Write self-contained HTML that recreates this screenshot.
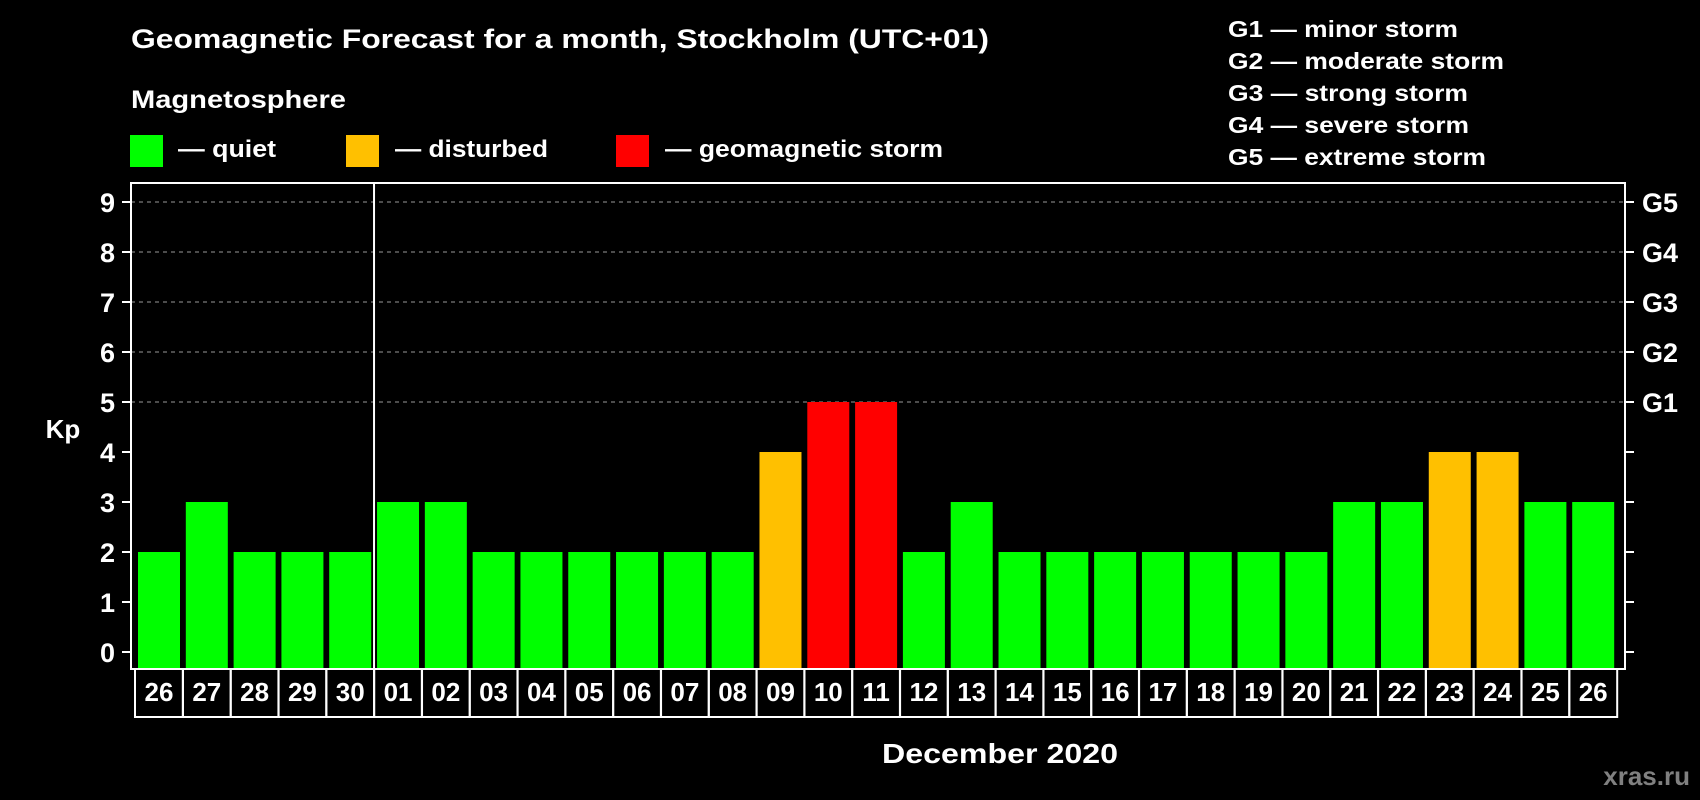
<!DOCTYPE html>
<html><head><meta charset="utf-8"><style>
html,body{margin:0;padding:0;background:#000;}
svg{display:block;font-family:"Liberation Sans",Arial,sans-serif;font-weight:bold;}
</style></head><body>
<svg id="chart" width="1700" height="800" viewBox="0 0 1700 800">
<text x="131" y="48" fill="#fff" font-size="27" textLength="858" lengthAdjust="spacingAndGlyphs">Geomagnetic Forecast for a month, Stockholm (UTC+01)</text>
<text x="131" y="108" fill="#fff" font-size="25" textLength="215" lengthAdjust="spacingAndGlyphs">Magnetosphere</text>
<g><rect x="130" y="135" width="33" height="32" fill="#00ff00"/><text x="178" y="157" fill="#fff" font-size="24" textLength="98" lengthAdjust="spacingAndGlyphs">— quiet</text></g>
<g><rect x="346" y="135" width="33" height="32" fill="#ffc000"/><text x="395" y="157" fill="#fff" font-size="24" textLength="153" lengthAdjust="spacingAndGlyphs">— disturbed</text></g>
<g><rect x="616" y="135" width="33" height="32" fill="#ff0000"/><text x="665" y="157" fill="#fff" font-size="24" textLength="278" lengthAdjust="spacingAndGlyphs">— geomagnetic storm</text></g>
<g fill="#fff" font-size="23">
<text x="1228" y="37" textLength="230" lengthAdjust="spacingAndGlyphs">G1 — minor storm</text>
<text x="1228" y="69" textLength="276" lengthAdjust="spacingAndGlyphs">G2 — moderate storm</text>
<text x="1228" y="101" textLength="240" lengthAdjust="spacingAndGlyphs">G3 — strong storm</text>
<text x="1228" y="133" textLength="241" lengthAdjust="spacingAndGlyphs">G4 — severe storm</text>
<text x="1228" y="165" textLength="258" lengthAdjust="spacingAndGlyphs">G5 — extreme storm</text>
</g>
<text x="63" y="438" fill="#fff" font-size="26" text-anchor="middle">Kp</text>
<text x="1000" y="763" fill="#fff" font-size="28" text-anchor="middle" textLength="236" lengthAdjust="spacingAndGlyphs">December 2020</text>
<text x="1690" y="785" fill="#808080" font-size="26" text-anchor="end">xras.ru</text>
<g id="grid"></g><g id="bars"></g><g id="axes"></g>
</svg>
<script>
const dates=["26","27","28","29","30","01","02","03","04","05","06","07","08","09","10","11","12","13","14","15","16","17","18","19","20","21","22","23","24","25","26"];
const kpValues=[2,3,2,2,2,3,3,2,2,2,2,2,2,4,5,5,2,3,2,2,2,2,2,2,2,3,3,4,4,3,3];
const yTicks=[0,1,2,3,4,5,6,7,8,9];
const gLabels=["","","","","","G1","G2","G3","G4","G5"];
const NS="http://www.w3.org/2000/svg";
const L=131,R=1625,T=183,B=669;
const y=v=>652-v*50;
const x=i=>138+i*((1620-138)/dates.length);
const bw=42;
function mk(tag,attrs,parent){const e=document.createElementNS(NS,tag);for(const k in attrs)e.setAttribute(k,attrs[k]);parent.appendChild(e);return e;}
const grid=document.getElementById('grid'),bars=document.getElementById('bars'),axes=document.getElementById('axes');
yTicks.forEach((t,i)=>{
  if(t>=5){const g=mk('line',{x1:L,x2:R,y1:y(t),y2:y(t),stroke:'#999','stroke-width':1,'stroke-dasharray':'4,4'},grid);
  
  }
  const tl=mk('line',{x1:L-9,x2:L,y1:y(t),y2:y(t),stroke:'#fff','stroke-width':2},axes);
  
  
  const tr=mk('line',{x1:R,x2:R+9,y1:y(t),y2:y(t),stroke:'#fff','stroke-width':2},axes);
  
  
  const lb=mk('text',{x:115,y:y(t)+10,fill:'#fff','font-size':27,'text-anchor':'end'},axes);lb.textContent=t;
  
  
  if(gLabels[i]){const gl=mk('text',{x:1642,y:y(t)+10,fill:'#fff','font-size':27},axes);gl.textContent=gLabels[i];
  
  }
});
kpValues.forEach((v,i)=>{
  const c=v>=5?'#ff0000':(v>=4?'#ffc000':'#00ff00');
  const b=mk('rect',{x:x(i),y:y(v),width:bw,height:B-1-y(v),fill:c},bars);
  
  
  const cl=mk('rect',{x:x(i)-3,y:B,width:48,height:48,fill:'none',stroke:'#fff','stroke-width':2},axes);
  
  
  const dt=mk('text',{x:x(i)+bw/2,y:701,fill:'#fff','font-size':26,'text-anchor':'middle'},axes);dt.textContent=dates[i];
  
  
});
const fr=mk('rect',{x:L,y:T,width:R-L,height:B-T,fill:'none',stroke:'#fff','stroke-width':2},axes);


const sx=x(5)-3;
const sep=mk('line',{x1:sx,x2:sx,y1:T,y2:B,stroke:'#fff','stroke-width':2},axes);


</script>
</body></html>
